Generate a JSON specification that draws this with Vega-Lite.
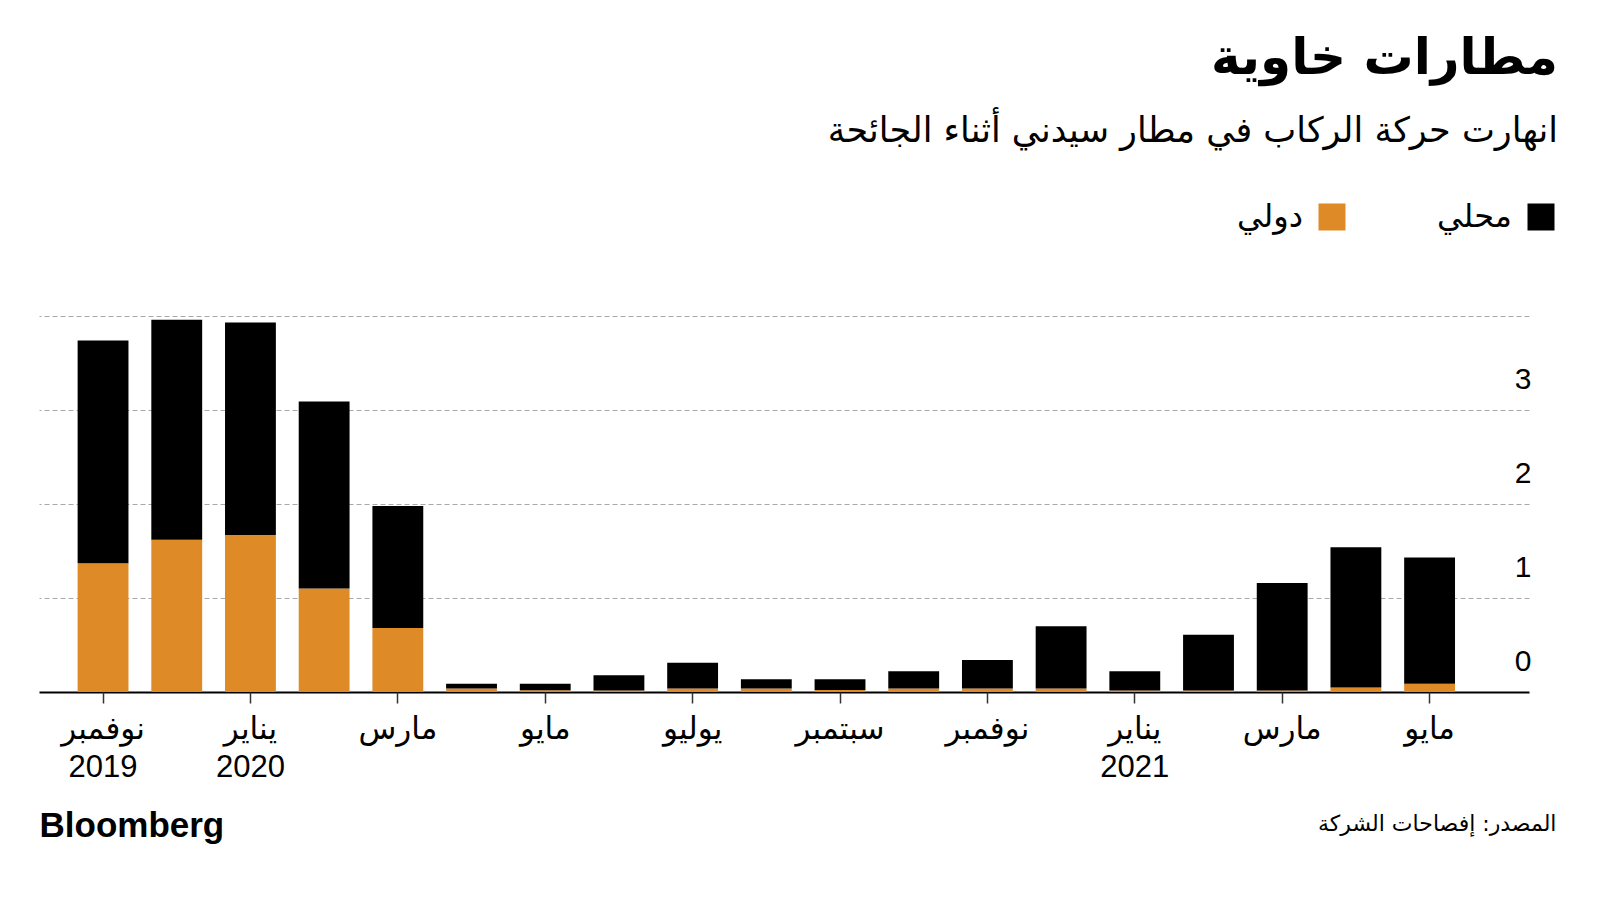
{
  "$schema": "https://vega.github.io/schema/vega-lite/v6.json",
  "width": 1490,
  "height": 376,
  "autosize": {"type": "none"},
  "padding": {"left": 39, "top": 316, "right": 71, "bottom": 208},
  "background": "white",
  "title": {
    "text": "مطارات خاوية",
    "subtitle": "انهارت حركة الركاب في مطار سيدني أثناء الجائحة",
    "anchor": "end",
    "frame": "group",
    "dx": 29,
    "offset": 52,
    "font": "DejaVu Sans",
    "fontSize": 50,
    "fontWeight": "bold",
    "color": "black",
    "subtitleFont": "DejaVu Sans",
    "subtitleFontSize": 35,
    "subtitleColor": "black",
    "subtitlePadding": 30
  },
  "data": {
    "values": [
      {"month": "2019-11", "type": "دولي", "value": 1.37},
      {"month": "2019-11", "type": "محلي", "value": 2.37},
      {"month": "2019-12", "type": "دولي", "value": 1.62},
      {"month": "2019-12", "type": "محلي", "value": 2.34},
      {"month": "2020-01", "type": "دولي", "value": 1.67},
      {"month": "2020-01", "type": "محلي", "value": 2.26},
      {"month": "2020-02", "type": "دولي", "value": 1.10},
      {"month": "2020-02", "type": "محلي", "value": 1.99},
      {"month": "2020-03", "type": "دولي", "value": 0.68},
      {"month": "2020-03", "type": "محلي", "value": 1.30},
      {"month": "2020-04", "type": "دولي", "value": 0.036},
      {"month": "2020-04", "type": "محلي", "value": 0.053},
      {"month": "2020-05", "type": "دولي", "value": 0.018},
      {"month": "2020-05", "type": "محلي", "value": 0.071},
      {"month": "2020-06", "type": "دولي", "value": 0.015},
      {"month": "2020-06", "type": "محلي", "value": 0.162},
      {"month": "2020-07", "type": "دولي", "value": 0.036},
      {"month": "2020-07", "type": "محلي", "value": 0.274},
      {"month": "2020-08", "type": "دولي", "value": 0.036},
      {"month": "2020-08", "type": "محلي", "value": 0.099},
      {"month": "2020-09", "type": "دولي", "value": 0.02},
      {"month": "2020-09", "type": "محلي", "value": 0.115},
      {"month": "2020-10", "type": "دولي", "value": 0.036},
      {"month": "2020-10", "type": "محلي", "value": 0.184},
      {"month": "2020-11", "type": "دولي", "value": 0.036},
      {"month": "2020-11", "type": "محلي", "value": 0.304},
      {"month": "2020-12", "type": "دولي", "value": 0.036},
      {"month": "2020-12", "type": "محلي", "value": 0.664},
      {"month": "2021-01", "type": "دولي", "value": 0.015},
      {"month": "2021-01", "type": "محلي", "value": 0.205},
      {"month": "2021-02", "type": "دولي", "value": 0.015},
      {"month": "2021-02", "type": "محلي", "value": 0.595},
      {"month": "2021-03", "type": "دولي", "value": 0.015},
      {"month": "2021-03", "type": "محلي", "value": 1.145},
      {"month": "2021-04", "type": "دولي", "value": 0.047},
      {"month": "2021-04", "type": "محلي", "value": 1.493},
      {"month": "2021-05", "type": "دولي", "value": 0.089},
      {"month": "2021-05", "type": "محلي", "value": 1.341}
    ]
  },
  "mark": {"type": "bar"},
  "encoding": {
    "x": {
      "field": "month",
      "type": "ordinal",
      "sort": null,
      "scale": {"paddingInner": 0.31, "paddingOuter": 0.764, "align": 0.343},
      "axis": {
        "values": ["2019-11", "2020-01", "2020-03", "2020-05", "2020-07", "2020-09", "2020-11", "2021-01", "2021-03", "2021-05"],
        "labelExpr": "datum.value == '2019-11' ? ['نوفمبر', '2019'] : datum.value == '2020-01' ? ['يناير', '2020'] : datum.value == '2020-03' ? 'مارس' : datum.value == '2020-05' ? 'مايو' : datum.value == '2020-07' ? 'يوليو' : datum.value == '2020-09' ? 'سبتمبر' : datum.value == '2020-11' ? 'نوفمبر' : datum.value == '2021-01' ? ['يناير', '2021'] : datum.value == '2021-03' ? 'مارس' : 'مايو'",
        "labelAngle": 0,
        "labelFont": "Liberation Sans, DejaVu Sans",
        "labelFontSize": 31,
        "labelLineHeight": 38,
        "labelBaseline": "top",
        "labelPadding": 11,
        "labelColor": "black",
        "labelOverlap": false,
        "domain": false,
        "ticks": true,
        "tickSize": 11,
        "tickColor": "#333",
        "tickWidth": 1.5,
        "grid": false,
        "title": "المصدر: إفصاحات الشركة",
        "titleFont": "DejaVu Sans",
        "titleFontSize": 22,
        "titleFontWeight": "normal",
        "titleColor": "black",
        "titleAnchor": "end",
        "titleAlign": "right",
        "titleBaseline": "middle",
        "titleX": 1517,
        "titleY": 131
      }
    },
    "y": {
      "field": "value",
      "type": "quantitative",
      "stack": "zero",
      "scale": {"domain": [0, 4], "nice": false},
      "axis": {
        "orient": "right",
        "values": [0, 1, 2, 3, 4],
        "labelExpr": "datum.value >= 4 ? '' : datum.label",
        "domain": false,
        "ticks": false,
        "labelAlign": "right",
        "labelBaseline": "alphabetic",
        "labelOffset": -22,
        "labelPadding": 2,
        "labelFont": "Liberation Sans",
        "labelFontSize": 30,
        "labelColor": "black",
        "grid": true,
        "gridColor": {"condition": {"test": "datum.value === 0", "value": "#000000"}, "value": "#a8a8a8"},
        "gridDash": {"condition": {"test": "datum.value === 0", "value": []}, "value": [5, 3]},
        "gridWidth": {"condition": {"test": "datum.value === 0", "value": 2}, "value": 1},
        "title": "Bloomberg",
        "titleFont": "Liberation Sans",
        "titleFontSize": 35,
        "titleFontWeight": "bold",
        "titleColor": "black",
        "titleAngle": 0,
        "titleAlign": "left",
        "titleBaseline": "middle",
        "titleX": -1490,
        "titleY": 509
      }
    },
    "color": {
      "field": "type",
      "type": "nominal",
      "scale": {"domain": ["دولي", "محلي"], "range": ["#DD8A27", "#000000"]},
      "legend": {
        "title": null,
        "orient": "none",
        "direction": "horizontal",
        "legendX": 1277,
        "legendY": -115,
        "symbolType": "square",
        "symbolSize": 729,
        "symbolStrokeWidth": 0,
        "labelFont": "DejaVu Sans",
        "labelFontSize": 32,
        "labelColor": "black",
        "labelAlign": "right",
        "labelOffset": -45,
        "labelLimit": 200,
        "columnPadding": 90
      }
    },
    "order": {"field": "type", "sort": "ascending"}
  },
  "config": {
    "view": {"stroke": null}
  }
}
